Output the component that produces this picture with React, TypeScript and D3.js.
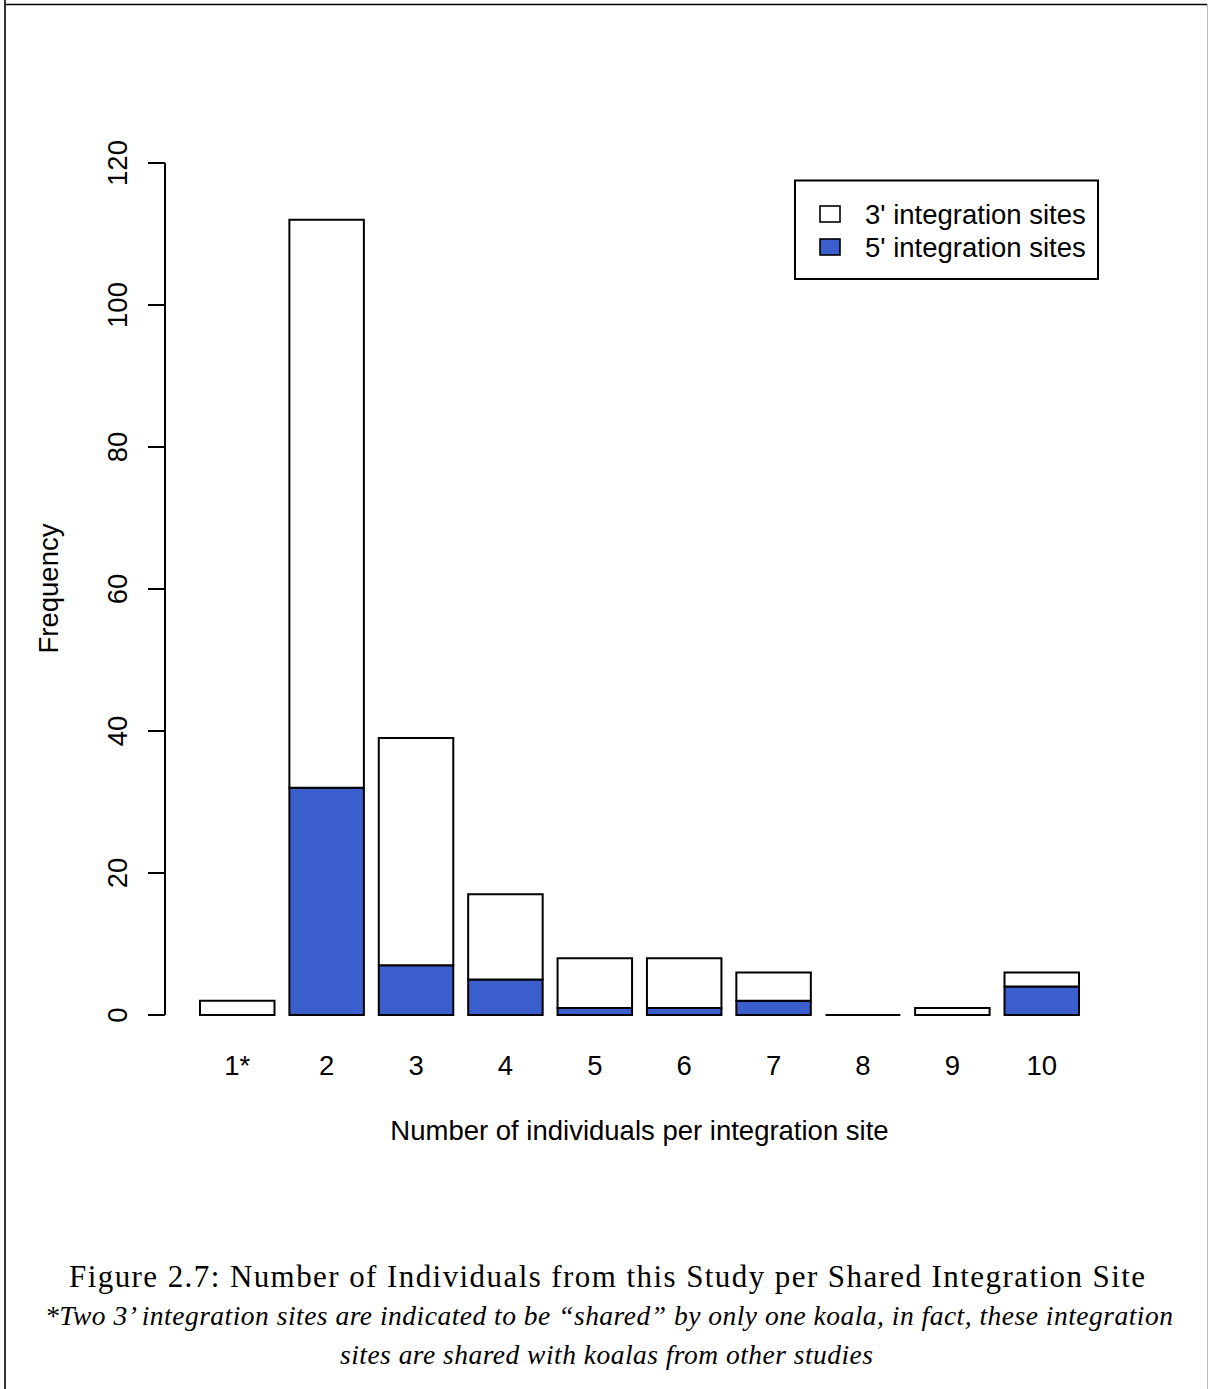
import React from "react";
import * as d3 from "d3";

// Number of individuals sharing an integration site (bar categories)
const categories: string[] = ["1*", "2", "3", "4", "5", "6", "7", "8", "9", "10"];
// Counts of 5' integration sites (lower, filled segment)
const fivePrime: number[] = [0, 32, 7, 5, 1, 1, 2, 0, 0, 4];
// Counts of 3' integration sites (upper, open segment)
const threePrime: number[] = [2, 80, 32, 12, 7, 7, 4, 0, 1, 2];
// Frequency axis ticks
const yTicks: number[] = [0, 20, 40, 60, 80, 100, 120];
// Legend entries
const legendLabels: string[] = ["3' integration sites", "5' integration sites"];
const legendFills: string[] = ["#ffffff", "#3a5fcd"];

const W = 1208;
const H = 1389;
const SANS = "'Liberation Sans', Arial, Helvetica, sans-serif";
const SERIF = "'Liberation Serif', 'Times New Roman', serif";
const FS = 27.5;

export default function App() {
  // barplot user coordinates: bar i spans [0.2 + 1.2 i, 1.2 + 1.2 i]
  const x = d3.scaleLinear().domain([0.2, 12.0]).range([200, 1079]);
  const y = d3.scaleLinear().domain([0, 120]).range([1015, 163]);
  const axisX = 165;

  const barPath = (i: number, lo: number, hi: number) => {
    const x0 = x(0.2 + 1.2 * i);
    const x1 = x(1.2 + 1.2 * i);
    const y0 = y(lo);
    const y1 = y(hi);
    return `M${x0},${y0}H${x1}V${y1}H${x0}Z`;
  };

  return (
    <svg
      width={W}
      height={H}
      viewBox={`0 0 ${W} ${H}`}
      style={{ position: "absolute", left: 0, top: 0, display: "block", background: "#fff" }}
    >
      <rect x={0} y={0} width={W} height={H} fill="#fff" />
      {/* page frame */}
      <line x1={5} y1={0} x2={5} y2={H} stroke="#000" strokeWidth={1.6} />
      <line x1={5} y1={4.5} x2={1207} y2={4.5} stroke="#000" strokeWidth={1.6} />
      <line x1={1207.5} y1={4} x2={1207.5} y2={H} stroke="#bbb" strokeWidth={1} />

      {/* stacked bars */}
      {categories.map((c, i) => (
        <g key={c}>
          <path d={barPath(i, 0, fivePrime[i])} fill={legendFills[1]} stroke="#000" strokeWidth={2} />
          <path
            d={barPath(i, fivePrime[i], fivePrime[i] + threePrime[i])}
            fill={legendFills[0]}
            stroke="#000"
            strokeWidth={2}
          />
        </g>
      ))}

      {/* y axis */}
      <line x1={axisX} y1={y(0)} x2={axisX} y2={y(120)} stroke="#000" strokeWidth={2} />
      {yTicks.map((t) => (
        <g key={t}>
          <line x1={axisX - 17} y1={y(t)} x2={axisX} y2={y(t)} stroke="#000" strokeWidth={2} />
          <text
            transform={`translate(127,${y(t)}) rotate(-90)`}
            textAnchor="middle"
            fontFamily={SANS}
            fontSize={FS}
            fill="#000"
          >
            {t}
          </text>
        </g>
      ))}

      {/* category labels */}
      {categories.map((c, i) => (
        <text
          key={c}
          x={x(0.7 + 1.2 * i)}
          y={1075}
          textAnchor="middle"
          fontFamily={SANS}
          fontSize={FS}
          fill="#000"
        >
          {c}
        </text>
      ))}

      {/* axis titles */}
      <text x={639.5} y={1140} textAnchor="middle" fontFamily={SANS} fontSize={FS} fill="#000">
        Number of individuals per integration site
      </text>
      <text
        transform="translate(58,588.5) rotate(-90)"
        textAnchor="middle"
        fontFamily={SANS}
        fontSize={FS}
        fill="#000"
      >
        Frequency
      </text>

      {/* legend */}
      <rect x={795} y={180.5} width={303} height={98.5} fill="#fff" stroke="#000" strokeWidth={2} />
      {legendLabels.map((l, i) => (
        <g key={l}>
          <rect
            x={820}
            y={206 + i * 33}
            width={20}
            height={16}
            fill={legendFills[i]}
            stroke="#000"
            strokeWidth={1.6}
          />
          <text x={865} y={224 + i * 33} fontFamily={SANS} fontSize={FS} fill="#000">
            {l}
          </text>
        </g>
      ))}

      {/* caption */}
      <text
        x={607}
        y={1287}
        textAnchor="middle"
        fontFamily={SERIF}
        fontSize={31}
        fill="#000"
        textLength={1076}
        lengthAdjust="spacing"
      >
        Figure 2.7: Number of Individuals from this Study per Shared Integration Site
      </text>
      <text
        x={609}
        y={1325}
        textAnchor="middle"
        fontFamily={SERIF}
        fontStyle="italic"
        fontSize={27.5}
        fill="#000"
        textLength={1128}
        lengthAdjust="spacing"
      >
        *Two 3’ integration sites are indicated to be “shared” by only one koala, in fact, these integration
      </text>
      <text
        x={606.5}
        y={1364}
        textAnchor="middle"
        fontFamily={SERIF}
        fontStyle="italic"
        fontSize={27.5}
        fill="#000"
        textLength={533}
        lengthAdjust="spacing"
      >
        sites are shared with koalas from other studies
      </text>
    </svg>
  );
}
